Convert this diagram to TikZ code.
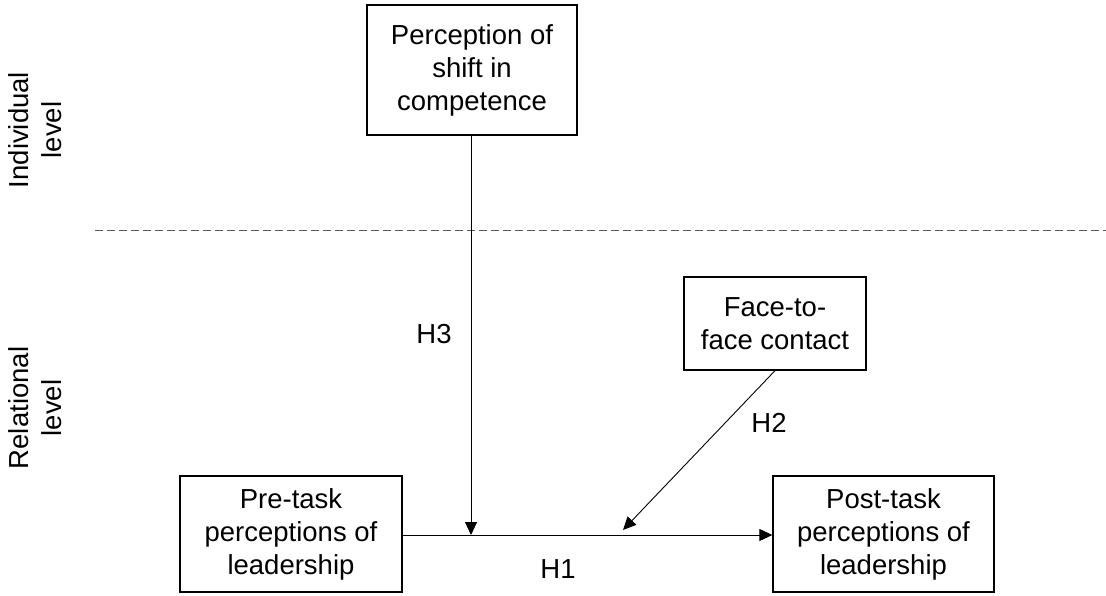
\documentclass[tikz,border=0pt]{standalone}
\usepackage{fontspec}
\setmainfont{Liberation Sans}
\usetikzlibrary{arrows.meta}
\begin{document}
\begin{tikzpicture}[x=1pt,y=-1pt,
  box/.style={draw,line width=1.3pt,inner sep=0pt,align=center,font=\fontsize{27.5}{33}\selectfont},
  lbl/.style={font=\fontsize{27.5}{33}\selectfont,inner sep=0pt},
  side/.style={font=\fontsize{27.5}{33}\selectfont,inner sep=0pt,align=center,rotate=90},
  arr/.style={draw,line width=0.9pt,-{Triangle[length=13pt,width=12pt]}}]
\useasboundingbox (0,0) rectangle (1106,596);
\node[box,minimum width=210pt,minimum height=130pt] (comp) at (472,70) {Perception of\\shift in\\competence};
\node[box,minimum width=182pt,minimum height=93pt] (face) at (775,323.5) {Face-to-\\face contact};
\node[box,minimum width=222pt,minimum height=116pt] (pre) at (291,534) {Pre-task\\perceptions of\\leadership};
\node[box,minimum width=221pt,minimum height=116pt] (post) at (883.5,534) {Post-task\\perceptions of\\leadership};
\coordinate (d1) at (95,230);
\coordinate (d2) at (1106,230);
\draw[dashed,line width=0.8pt,gray!70!black,dash pattern=on 8pt off 4pt] (d1) -- (d2);
\draw[arr] (pre.east |- 0,535) -- (post.west |- 0,535);
\coordinate (m3) at (471,535);
\coordinate (m2) at (623,530);
\draw[arr] (comp.south -| m3) -- (m3);
\draw[arr] (face.south) -- (m2);
\node[lbl] (h3) at (434,334) {H3};
\node[lbl] (h2) at (769,423) {H2};
\node[lbl] (h1) at (558,569) {H1};
\node[side] (ind) at (35,130) {Individual\\level};
\node[side] (rel) at (35,408) {Relational\\level};
\end{tikzpicture}
\end{document}
